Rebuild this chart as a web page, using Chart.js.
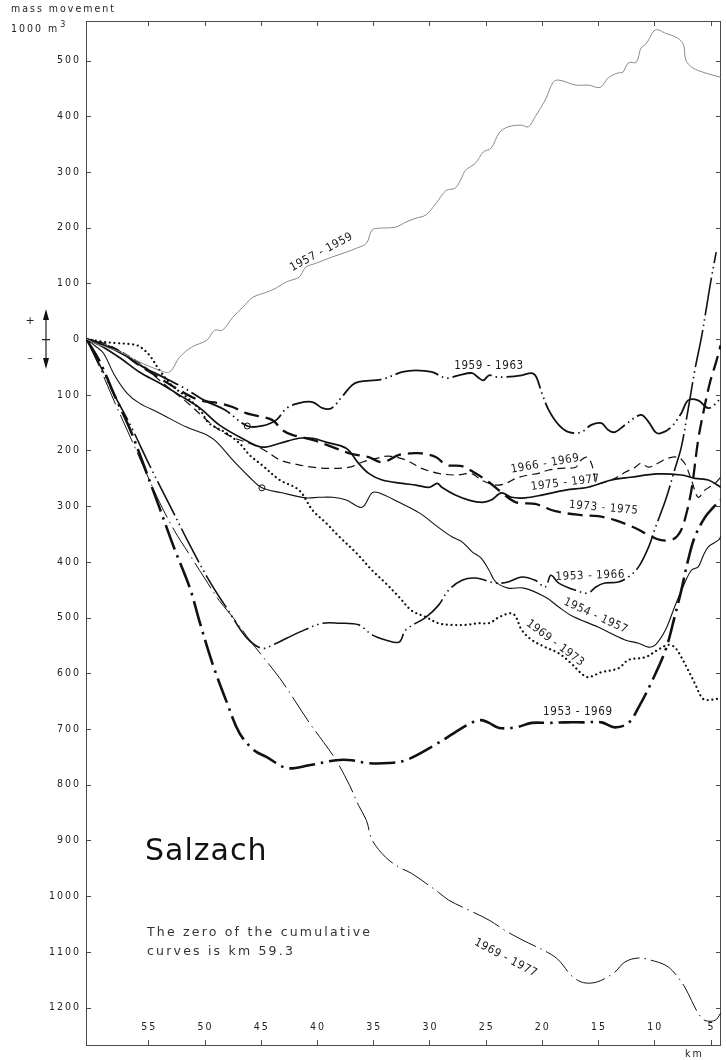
<!DOCTYPE html>
<html>
<head>
<meta charset="utf-8">
<script src="https://cdn.jsdelivr.net/npm/chart.js@4.4.1/dist/chart.umd.min.js"></script>
<style>
  html, body { margin: 0; padding: 0; background: #fff; }
  canvas { display: block; }
</style>
</head>
<body>
<canvas id="c" width="726" height="1060"></canvas>
<script>
// River kilometre ticks (bottom/top) and mass movement ticks (left/right), 1000 m3
const kmTicks = [55, 50, 45, 40, 35, 30, 25, 20, 15, 10, 5];
const massTicks = [500, 400, 300, 200, 100, 0, -100, -200, -300, -400, -500, -600, -700, -800, -900, -1000, -1100, -1200];

// Cumulative mass movement curves: [river km, 1000 m3]
const s1957_1959 = [[60.5,0],[59.3,-11],[57.5,-23],[55.8,-41],[54.0,-56],[53.1,-59],[52.2,-32],[51.1,-14],[49.8,-2],[49.1,16],[48.4,16],[47.5,39],[46.6,57],[45.7,75],[44.5,84],[43.6,92],[42.7,103],[41.6,111],[41.0,129],[40.1,136],[38.7,147],[37.4,156],[36.5,163],[35.6,172],[35.1,196],[34.5,199],[33.0,201],[32.1,210],[31.2,217],[30.3,223],[29.4,244],[28.5,267],[27.7,271],[27.1,291],[26.8,303],[25.9,316],[25.2,336],[24.5,343],[23.8,370],[23.0,381],[21.8,384],[21.2,381],[20.6,399],[19.7,429],[19.0,461],[18.5,465],[17.0,456],[15.9,456],[14.8,452],[14.1,469],[13.2,478],[12.8,479],[12.3,496],[11.6,497],[11.2,522],[10.7,531],[9.9,555],[9.0,549],[7.9,540],[7.4,528],[7.2,501],[6.6,487],[5.5,478],[4.1,470]];

const s1959_1963 = [[60.5,0],[58.9,-11],[57.1,-29],[55.3,-52],[53.5,-70],[51.8,-88],[50.0,-110],[48.2,-127],[46.2,-156],[44.9,-156],[43.6,-145],[42.7,-124],[41.6,-115],[40.4,-113],[39.5,-124],[38.7,-124],[37.8,-104],[36.9,-83],[36.3,-77],[34.2,-72],[32.4,-59],[31.2,-56],[29.8,-59],[28.5,-70],[27.4,-65],[26.2,-61],[25.6,-70],[25.2,-74],[24.7,-65],[24.1,-68],[23.2,-68],[21.8,-65],[20.9,-61],[20.5,-68],[20.0,-97],[19.4,-127],[18.5,-154],[17.6,-167],[16.5,-167],[15.6,-154],[14.7,-151],[14.1,-163],[13.5,-167],[12.6,-154],[11.2,-136],[10.5,-149],[9.9,-167],[9.4,-169],[8.5,-158],[7.6,-133],[7.0,-110],[6.1,-110],[5.2,-124],[4.5,-115],[4.1,-104]];

const s1966_1969 = [[60.5,0],[59.3,-5],[58.0,-16],[56.6,-32],[55.3,-50],[54.0,-74],[52.7,-95],[51.3,-118],[50.0,-142],[48.7,-163],[47.3,-178],[46.0,-187],[44.7,-199],[43.3,-217],[42.0,-224],[40.4,-230],[38.9,-232],[37.1,-230],[36.0,-221],[34.7,-214],[33.6,-210],[32.1,-217],[30.7,-232],[29.2,-241],[27.7,-244],[26.2,-242],[25.4,-253],[24.1,-262],[23.2,-259],[22.3,-250],[21.2,-244],[20.3,-241],[19.4,-235],[18.3,-232],[17.0,-230],[16.5,-217],[16.0,-212],[15.6,-223],[15.3,-248],[15.2,-259],[14.4,-257],[13.5,-250],[12.6,-239],[11.7,-230],[11.2,-223],[10.5,-230],[9.7,-223],[8.8,-214],[7.9,-212],[7.3,-223],[6.7,-253],[6.1,-284],[5.5,-271],[4.6,-259],[4.1,-248]];

const s1975_1977 = [[60.5,0],[59.3,-11],[57.5,-34],[55.8,-59],[54.0,-79],[52.2,-101],[50.4,-124],[48.7,-154],[46.4,-181],[44.9,-194],[43.3,-187],[41.6,-178],[40.4,-178],[39.2,-185],[37.4,-196],[36.3,-223],[35.4,-241],[34.2,-253],[32.4,-259],[31.2,-262],[30.0,-266],[29.3,-259],[28.9,-266],[27.7,-280],[26.5,-289],[25.3,-293],[24.5,-289],[23.6,-276],[22.7,-284],[21.5,-285],[20.0,-280],[17.9,-271],[15.9,-266],[13.8,-253],[12.1,-248],[9.7,-242],[7.6,-244],[6.4,-250],[5.2,-253],[4.1,-266]];

const s1973_1975 = [[60.5,0],[59.3,-7],[57.5,-23],[55.8,-47],[54.0,-70],[52.2,-92],[50.4,-110],[48.7,-115],[47.5,-122],[46.3,-133],[44.0,-145],[43.1,-163],[42.2,-172],[40.4,-181],[38.6,-194],[37.1,-205],[35.4,-212],[34.2,-221],[32.7,-208],[31.5,-205],[30.7,-205],[29.4,-212],[28.5,-226],[27.1,-228],[25.9,-241],[24.7,-257],[23.6,-275],[22.3,-293],[20.6,-296],[18.8,-309],[16.5,-316],[15.0,-318],[13.5,-325],[11.7,-339],[10.5,-352],[9.4,-361],[8.3,-359],[7.7,-346],[7.3,-325],[6.7,-271],[6.1,-181],[5.5,-118],[5.0,-74],[4.5,-41],[4.1,-11]];

const s1953_1966 = [[60.5,0],[59.3,-47],[58.0,-101],[56.6,-154],[54.9,-226],[53.1,-298],[51.3,-370],[49.6,-433],[47.8,-490],[46.3,-535],[44.9,-555],[43.6,-546],[42.7,-537],[41.1,-522],[39.5,-510],[38.0,-510],[36.3,-513],[35.1,-531],[33.9,-540],[32.7,-544],[32.1,-522],[30.3,-499],[29.2,-478],[28.3,-451],[27.1,-433],[25.9,-429],[24.1,-438],[23.0,-436],[21.8,-427],[20.6,-433],[19.7,-445],[19.2,-424],[18.5,-438],[17.0,-451],[15.9,-456],[15.2,-445],[14.4,-438],[13.2,-436],[12.3,-427],[11.4,-409],[10.5,-373],[9.9,-338],[9.0,-289],[8.2,-235],[7.6,-194],[7.0,-127],[6.4,-56],[5.8,4],[5.4,52],[5.0,101],[4.5,156]];

const s1954_1957 = [[60.5,0],[59.8,-11],[59.0,-25],[58.0,-65],[56.9,-97],[55.8,-115],[54.0,-133],[51.6,-158],[49.8,-172],[48.9,-185],[47.5,-217],[46.0,-248],[44.9,-267],[43.1,-276],[41.0,-285],[39.8,-284],[38.6,-284],[37.4,-289],[36.0,-302],[35.1,-276],[34.5,-276],[32.7,-293],[30.9,-312],[29.2,-338],[28.0,-355],[27.1,-364],[26.2,-382],[25.4,-393],[24.7,-415],[24.1,-436],[23.0,-447],[21.6,-447],[19.7,-463],[18.5,-481],[17.4,-496],[15.0,-517],[12.6,-540],[11.4,-546],[10.5,-553],[9.9,-549],[9.0,-522],[8.2,-481],[7.3,-438],[6.7,-415],[6.1,-409],[5.7,-391],[5.2,-373],[4.3,-361],[4.1,-355]];

const s1969_1973 = [[60.5,0],[59.3,-4],[58.0,-7],[56.6,-9],[55.8,-13],[54.9,-29],[54.0,-56],[52.9,-83],[51.6,-104],[50.4,-127],[49.6,-151],[48.2,-167],[46.9,-187],[46.0,-208],[44.9,-226],[43.3,-253],[41.6,-271],[40.4,-307],[39.2,-330],[38.0,-355],[36.5,-384],[35.1,-415],[33.9,-438],[32.7,-463],[31.6,-487],[30.3,-499],[29.2,-510],[28.0,-513],[26.8,-513],[25.6,-510],[24.7,-510],[23.8,-499],[22.7,-492],[22.3,-499],[21.8,-522],[20.9,-540],[19.7,-553],[18.5,-564],[17.4,-582],[16.5,-600],[15.9,-607],[14.7,-598],[13.2,-591],[12.3,-576],[10.8,-571],[9.7,-558],[8.8,-549],[8.2,-553],[7.6,-571],[7.0,-594],[6.4,-618],[5.8,-643],[5.4,-648],[4.1,-645]];

const s1953_1969 = [[60.5,0],[59.3,-41],[58.0,-101],[56.6,-163],[55.3,-232],[54.0,-303],[52.7,-375],[51.3,-447],[50.4,-510],[49.3,-582],[48.0,-653],[46.9,-707],[45.6,-738],[44.5,-750],[42.7,-770],[40.7,-765],[38.3,-756],[36.9,-756],[35.6,-761],[33.6,-761],[32.1,-756],[29.8,-732],[27.4,-702],[26.2,-688],[25.4,-684],[24.7,-689],[23.8,-698],[22.3,-697],[20.9,-689],[19.4,-689],[17.9,-688],[16.3,-688],[14.7,-688],[13.5,-697],[12.3,-689],[11.4,-661],[10.3,-618],[9.0,-558],[8.2,-499],[7.6,-451],[7.0,-397],[6.4,-355],[5.5,-320],[4.8,-303],[4.1,-289]];

const s1969_1977 = [[60.5,0],[59.3,-52],[58.0,-113],[56.6,-176],[55.3,-235],[54.0,-293],[52.7,-343],[51.3,-388],[50.0,-429],[48.7,-469],[47.3,-504],[46.0,-540],[44.7,-573],[43.3,-609],[42.0,-648],[40.7,-688],[39.4,-724],[38.3,-756],[37.1,-801],[36.3,-837],[35.6,-864],[35.1,-899],[33.9,-930],[32.7,-948],[31.6,-959],[30.3,-977],[29.2,-993],[28.3,-1007],[26.5,-1025],[24.7,-1043],[23.0,-1065],[21.2,-1084],[19.4,-1102],[18.5,-1115],[17.4,-1142],[16.5,-1154],[15.6,-1156],[14.7,-1151],[13.5,-1136],[12.6,-1118],[11.4,-1111],[10.3,-1115],[9.0,-1124],[8.2,-1138],[7.3,-1163],[6.7,-1187],[6.1,-1210],[5.5,-1223],[4.6,-1223],[4.1,-1210]];

// Survey marks drawn as small open circles
const circleMarks = [[46.2,-156],[44.9,-267]];

// Period labels: [text, km, value, rotation in degrees]
const periodLabels = [
  ['1957 - 1959', 39.6, 156, -28],
  ['1959 - 1963', 24.7, -48, 0],
  ['1966 - 1969', 19.7, -224, -10],
  ['1975 - 1977', 17.9, -258, -7],
  ['1973 - 1975', 14.5, -303, 5],
  ['1953 - 1966', 15.7, -425, -2],
  ['1954 - 1957', 15.2, -497, 25],
  ['1969 - 1973', 18.8, -546, 37],
  ['1953 - 1969', 16.8, -670, 0],
  ['1969 - 1977', 23.2, -1111, 28]
];

const toXY = arr => arr.map(p => ({ x: p[0], y: p[1] }));

function series(label, data, width, dash, color) {
  return {
    label,
    data: toXY(data),
    showLine: true,
    borderColor: color || '#111',
    borderWidth: width,
    borderDash: dash,
    borderCapStyle: 'butt',
    borderJoinStyle: 'round',
    pointRadius: 0,
    pointHoverRadius: 0,
    tension: 0.35,
    fill: false
  };
}

const dotted = series('1969-1973', s1969_1973, 2.2, [0.1, 4.6]);
dotted.borderCapStyle = 'round';

const datasets = [
  series('1957-1959', s1957_1959, 1.0, [], '#8a8a8a'),
  series('1959-1963', s1959_1963, 1.8, [44, 4, 1.5, 4, 1.5, 4]),
  series('1966-1969', s1966_1969, 1.2, [8, 5]),
  series('1975-1977', s1975_1977, 1.7, []),
  series('1973-1975', s1973_1975, 2.3, [15, 7]),
  series('1953-1966', s1953_1966, 1.6, [38, 4, 1.5, 4, 1.5, 4]),
  series('1954-1957', s1954_1957, 1.1, []),
  dotted,
  series('1953-1969', s1953_1969, 2.6, [26, 6, 2.5, 6]),
  series('1969-1977', s1969_1977, 1.0, [30, 5, 1.5, 5]),
  {
    label: 'marks',
    data: toXY(circleMarks),
    showLine: false,
    pointRadius: 3,
    pointStyle: 'circle',
    pointBackgroundColor: '#fff',
    pointBorderColor: '#111',
    pointBorderWidth: 1
  }
];

const TICK_FONT = '10.5px "DejaVu Sans Condensed", "DejaVu Sans", sans-serif';
const LABEL_FONT = '11.5px "DejaVu Sans Condensed", "Liberation Sans Narrow", "DejaVu Sans", sans-serif';

// Frame with inward ticks, tick labels and captions
const frame = {
  id: 'frame',
  beforeDatasetsDraw(chart) {
    const { ctx, chartArea: a, scales: { x, y } } = chart;
    ctx.save();
    ctx.strokeStyle = '#4a4a4a';
    ctx.lineWidth = 1;
    ctx.strokeRect(a.left + 0.5, a.top + 0.5, a.right - a.left - 1, a.bottom - a.top - 1);

    ctx.beginPath();
    massTicks.forEach(v => {
      const py = Math.round(y.getPixelForValue(v)) + 0.5;
      ctx.moveTo(a.left, py); ctx.lineTo(a.left + 5, py);
      ctx.moveTo(a.right, py); ctx.lineTo(a.right - 5, py);
    });
    kmTicks.forEach(k => {
      const px = Math.round(x.getPixelForValue(k)) + 0.5;
      ctx.moveTo(px, a.bottom); ctx.lineTo(px, a.bottom - 6);
      ctx.moveTo(px, a.top); ctx.lineTo(px, a.top + 5);
    });
    ctx.stroke();

    ctx.fillStyle = '#222';
    ctx.font = TICK_FONT;
    ctx.letterSpacing = '2px';
    ctx.textBaseline = 'middle';
    ctx.textAlign = 'right';
    massTicks.forEach(v => {
      ctx.fillText(String(Math.abs(v)), a.left - 5, y.getPixelForValue(v));
    });
    ctx.textAlign = 'center';
    kmTicks.forEach(k => {
      ctx.fillText(String(k), x.getPixelForValue(k) + 1, a.bottom - 19);
    });
    ctx.textAlign = 'left';
    ctx.fillText('km', a.right - 36, a.bottom + 8);

    // axis caption
    ctx.fillText('mass movement', 11, 9);
    const unit = '1000 m';
    ctx.fillText(unit, 11, 29);
    const w = ctx.measureText(unit).width;
    ctx.font = '8px "DejaVu Sans", sans-serif';
    ctx.letterSpacing = '0px';
    ctx.fillText('3', 11 + w + 1, 25);

    // sign convention arrow
    const z = y.getPixelForValue(0);
    ctx.font = '11px "DejaVu Sans", sans-serif';
    ctx.textAlign = 'center';
    ctx.fillText('+', 30, z - 18);
    ctx.fillText('\u2013', 30, z + 19);
    ctx.strokeStyle = '#222';
    ctx.lineWidth = 1.2;
    ctx.beginPath();
    ctx.moveTo(46, z - 22); ctx.lineTo(46, z + 22);
    ctx.moveTo(42, z + 0.5); ctx.lineTo(50, z + 0.5);
    ctx.stroke();
    ctx.beginPath();
    ctx.moveTo(46, z - 30); ctx.lineTo(43, z - 19); ctx.lineTo(49, z - 19); ctx.closePath();
    ctx.moveTo(46, z + 30); ctx.lineTo(43, z + 19); ctx.lineTo(49, z + 19); ctx.closePath();
    ctx.fillStyle = '#111';
    ctx.fill();
    ctx.restore();
  },
  afterDatasetsDraw(chart) {
    const { ctx, scales: { x, y } } = chart;
    ctx.save();
    ctx.fillStyle = '#1a1a1a';
    ctx.font = LABEL_FONT;
    ctx.letterSpacing = '0.6px';
    ctx.textAlign = 'center';
    ctx.textBaseline = 'middle';
    periodLabels.forEach(([t, k, v, r]) => {
      ctx.save();
      ctx.translate(x.getPixelForValue(k), y.getPixelForValue(v));
      ctx.rotate(r * Math.PI / 180);
      ctx.fillText(t, 0, 0);
      ctx.restore();
    });

    ctx.textAlign = 'left';
    ctx.textBaseline = 'alphabetic';
    ctx.fillStyle = '#111';
    ctx.font = '30px "DejaVu Sans", sans-serif';
    ctx.letterSpacing = '1px';
    ctx.fillText('Salzach', 145, 860);
    ctx.fillStyle = '#333';
    ctx.font = '12.5px "DejaVu Sans", sans-serif';
    ctx.letterSpacing = '2.2px';
    ctx.fillText('The zero of the cumulative', 147, 936);
    ctx.fillText('curves is km 59.3', 147, 955);
    ctx.restore();
  }
};

new Chart(document.getElementById('c'), {
  type: 'scatter',
  data: { datasets },
  options: {
    responsive: false,
    devicePixelRatio: 1,
    animation: false,
    layout: { padding: { left: 86, right: 3, top: 21, bottom: 14 } },
    plugins: { legend: { display: false }, tooltip: { enabled: false } },
    scales: {
      x: { type: 'linear', reverse: true, min: 4.07, max: 60.54, display: false },
      y: { type: 'linear', min: -1269, max: 571, display: false }
    }
  },
  plugins: [frame]
});
</script>
</body>
</html>
